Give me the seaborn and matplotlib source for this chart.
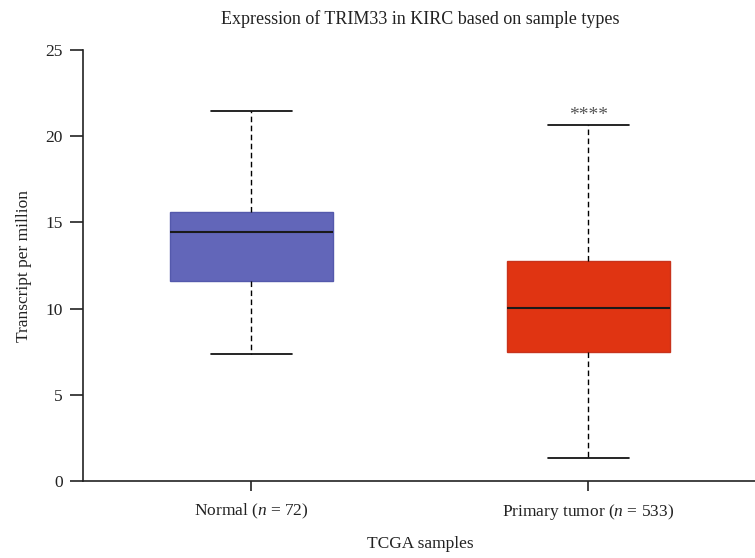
import matplotlib
matplotlib.use("Agg")
import matplotlib.pyplot as plt
import seaborn as sns
import pandas as pd

# Five-number summaries (TPM) per sample type: min, Q1, median, Q3, max
groups = ["Normal ($n$ = 72)", "Primary tumor ($n$ = 533)"]
normal_stats = [7.37, 11.61, 14.43, 15.61, 21.46]
tumor_stats = [1.33, 7.49, 10.01, 12.77, 20.64]
box_colors = ["#6266B9", "#E03412"]
edge_colors = ["#5459AC", "#C8331C"]
significance = "****"
yticks = [0, 5, 10, 15, 20, 25]

df = pd.DataFrame({
    "group": [groups[0]] * len(normal_stats) + [groups[1]] * len(tumor_stats),
    "tpm": normal_stats + tumor_stats,
})

sns.set_theme(style="ticks")
plt.rcParams["font.family"] = ["Liberation Serif", "DejaVu Serif"]
plt.rcParams["mathtext.fontset"] = "custom"
plt.rcParams["mathtext.it"] = "Liberation Serif:italic"
plt.rcParams["mathtext.rm"] = "Liberation Serif"

fig = plt.figure(figsize=(7.55, 5.58), dpi=100)
ax = fig.add_axes([83 / 755, 1 - 481 / 558, 674 / 755, 431 / 558])

sns.boxplot(
    data=df, x="group", y="tpm", hue="group", palette=box_colors,
    order=groups, hue_order=groups, legend=False, ax=ax, saturation=1,
    whis=(0, 100), width=0.484, fliersize=0,
    boxprops=dict(linewidth=1.0),
    medianprops=dict(color="#1a1a1a", linewidth=1.5),
    whiskerprops=dict(color="black", linewidth=1.0, linestyle=(0, (4, 2.5))),
    capprops=dict(color="black", linewidth=1.2),
)

# edge colours per box
for patch, ec in zip(ax.patches, edge_colors):
    patch.set_edgecolor(ec)

ax.set_xlim(-0.5, 1.5)
ax.set_ylim(0, 25)
ax.set_yticks(yticks)
ax.set_yticklabels([str(t) for t in yticks])

ax.annotate(significance, xy=(1, tumor_stats[-1]), xytext=(0, 1),
            textcoords="offset points", ha="center", va="bottom",
            fontsize=14, color="#555555")

ax.set_title("Expression of TRIM33 in KIRC based on sample types",
             fontsize=13, color="#222222", pad=19)
ax.set_xlabel("TCGA samples", fontsize=12.5, color="#222222", labelpad=10.5)
ax.set_ylabel("Transcript per million", fontsize=12.5, color="#222222", labelpad=10)

for s in ["top", "right"]:
    ax.spines[s].set_visible(False)
for s in ["left", "bottom"]:
    ax.spines[s].set_color("#222222")
    ax.spines[s].set_linewidth(1.2)

ax.tick_params(axis="y", length=9.5, width=1.2, color="#222222",
               labelsize=12.5, labelcolor="#222222", pad=5)
ax.tick_params(axis="x", length=7, width=1.2, color="#222222",
               labelsize=12.5, labelcolor="#222222", pad=8)

fig.savefig("out.png", dpi=100)
